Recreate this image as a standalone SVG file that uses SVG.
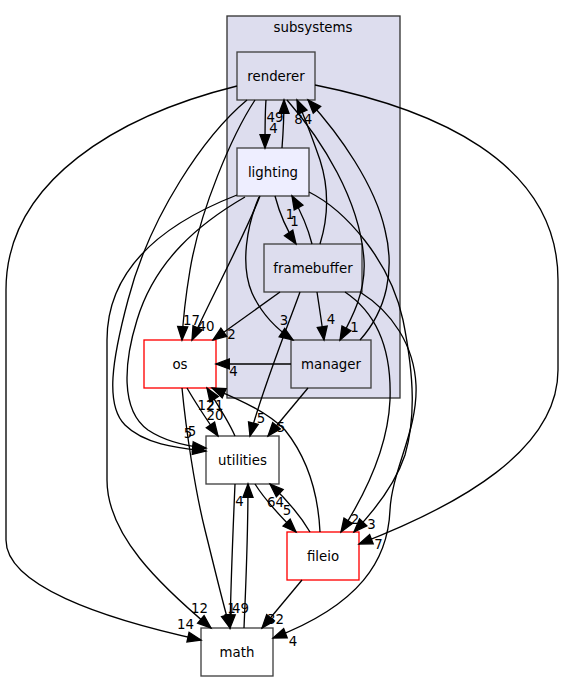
<svg xmlns="http://www.w3.org/2000/svg" width="565" height="681" viewBox="0 0 565 681">
<style>
text{font-family:"DejaVu Sans","Liberation Sans",sans-serif;font-size:13.33px;fill:#000}
.lbl{text-anchor:middle}
.cl{fill:#ddddee;stroke:#333;stroke-width:1.33}
.nd{fill:#ddddee;stroke:#404040;stroke-width:1.33}
.cur{fill:#eeeeff;stroke:#404040;stroke-width:1.33}
.wh{fill:#fff;stroke:#404040;stroke-width:1.33}
.rd{fill:#fff;stroke:#ff0000;stroke-width:1.33}
.e path{fill:none;stroke:#000;stroke-width:1.33;marker-end:url(#ah)}
</style>
<defs>
<marker id="ah" markerUnits="userSpaceOnUse" markerWidth="16" markerHeight="12" refX="13.3" refY="5" orient="auto" overflow="visible">
<path d="M0,0 L13.3,5 L0,10 z" fill="#000" stroke="#000" stroke-width="1.33"/>
</marker>
</defs>
<rect width="565" height="681" fill="#fff"/>
<g id="cluster_subsystems">
<rect class="cl" x="227" y="16" width="173" height="382"/>
<text class="lbl" x="313" y="31.5">subsystems</text>
</g>
<g id="node_renderer"><rect class="nd" x="237" y="52" width="78" height="48"/><text class="lbl" x="276" y="80.5">renderer</text></g>
<g id="node_lighting"><rect class="cur" x="237" y="148" width="72" height="48"/><text class="lbl" x="273" y="176.5">lighting</text></g>
<g id="node_framebuffer"><rect class="nd" x="264" y="244" width="98" height="48"/><text class="lbl" x="313" y="272.5">framebuffer</text></g>
<g id="node_manager"><rect class="nd" x="291" y="340" width="80" height="48"/><text class="lbl" x="331" y="368.5">manager</text></g>
<g id="node_os"><rect class="rd" x="144" y="340" width="72" height="48"/><text class="lbl" x="180" y="368.5">os</text></g>
<g id="node_utilities"><rect class="wh" x="206" y="436" width="73" height="48"/><text class="lbl" x="242.5" y="464.5">utilities</text></g>
<g id="node_fileio"><rect class="rd" x="287" y="532" width="72" height="48"/><text class="lbl" x="323" y="560.5">fileio</text></g>
<g id="node_math"><rect class="wh" x="201" y="628" width="72" height="48"/><text class="lbl" x="237" y="656.5">math</text></g>
<g id="edges" class="e">
<path d="M266,100 C265,112 265,125 265,148"/>
<path d="M282,148 C283,135 284,115 284,100"/>
<path d="M320,244 C329,215 328,185 320,160 C313,140 305,118 297,100"/>
<path d="M360,340 C387,310 395,270 385,230 C375,185 340,135 308,100"/>
<path d="M287,100 C322,140 360,200 364,260 C366,292 352,318 340,340"/>
<path d="M315,85 C430,108 558,160 558,280 L558,370 C558,450 460,505 359,544"/>
<path d="M237,86 C120,115 6,180 6,290 L6,540 C6,585 100,618 201,640"/>
<path d="M255,100 C232,135 200,210 190,270 C185,300 183,320 182,340"/>
<path d="M247,100 C205,135 150,215 128,300 C112,360 105,405 125,425 C145,445 180,448 206,451"/>
<path d="M275,196 C280,215 288,232 296,244"/>
<path d="M312,244 C308,228 300,210 292,196"/>
<path d="M259,197 C247,225 240,265 252,293 C262,315 278,330 293,340"/>
<path d="M260,196 C245,235 215,290 192,340"/>
<path d="M245,197 C200,223 155,260 137,320 C124,362 120,410 148,430 C166,442 185,446 206,448"/>
<path d="M237,195 C160,225 107,270 107,340 L107,480 C107,535 160,585 211,628"/>
<path d="M309,192 C345,210 390,260 403,320 C415,380 415,420 405,455 C395,485 375,510 354,532"/>
<path d="M280,292 L213,340"/>
<path d="M300,292 C290,320 262,390 250,436"/>
<path d="M317,292 C319,305 322,325 324,340"/>
<path d="M345,292 C375,312 392,345 390,400 C388,445 368,490 341,532"/>
<path d="M360,292 C392,312 414,345 416,385 C418,430 392,470 390,510 C388,560 360,605 273,638"/>
<path d="M291,364 L216,364"/>
<path d="M308,388 L268,436"/>
<path d="M187,388 C195,402 207,420 218,436"/>
<path d="M182,388 C186,430 195,490 205,530 C215,570 222,600 230,628"/>
<path d="M235,436 C228,420 216,402 207,388"/>
<path d="M255,484 C265,500 282,518 296,532"/>
<path d="M235,484 C233,530 231,580 230,628"/>
<path d="M310,532 C300,515 285,498 270,484"/>
<path d="M320,532 C318,490 305,455 285,430 C265,410 235,398 212,388"/>
<path d="M302,580 L262,628"/>
<path d="M244,628 C246,580 248,540 248,484"/>
<text class="lbl" x="273.5" y="133">4</text>
<text class="lbl" x="275" y="122">49</text>
<text class="lbl" x="298.5" y="124">8</text>
<text class="lbl" x="308" y="124">4</text>
<text class="lbl" x="354.5" y="332">1</text>
<text class="lbl" x="378.5" y="549">7</text>
<text class="lbl" x="185.5" y="629">14</text>
<text class="lbl" x="191.5" y="325">17</text>
<text class="lbl" x="188" y="438">5</text>
<text class="lbl" x="290" y="219">1</text>
<text class="lbl" x="294.5" y="226">1</text>
<text class="lbl" x="284" y="325">3</text>
<text class="lbl" x="206" y="331">40</text>
<text class="lbl" x="192" y="436">5</text>
<text class="lbl" x="199.5" y="613">12</text>
<text class="lbl" x="371.5" y="529">3</text>
<text class="lbl" x="231.5" y="339">2</text>
<text class="lbl" x="261" y="423">5</text>
<text class="lbl" x="331" y="324">4</text>
<text class="lbl" x="355" y="524">2</text>
<text class="lbl" x="293" y="646">4</text>
<text class="lbl" x="233.5" y="376">4</text>
<text class="lbl" x="281" y="432">5</text>
<text class="lbl" x="215" y="420">20</text>
<text class="lbl" x="231.5" y="613">1</text>
<text class="lbl" x="215" y="410">21</text>
<text class="lbl" x="287" y="515">5</text>
<text class="lbl" x="240.5" y="613">49</text>
<text class="lbl" x="275.5" y="507">64</text>
<text class="lbl" x="206" y="410">12</text>
<text class="lbl" x="275.5" y="624">32</text>
<text class="lbl" x="239.5" y="506">4</text>
</g>
</svg>
